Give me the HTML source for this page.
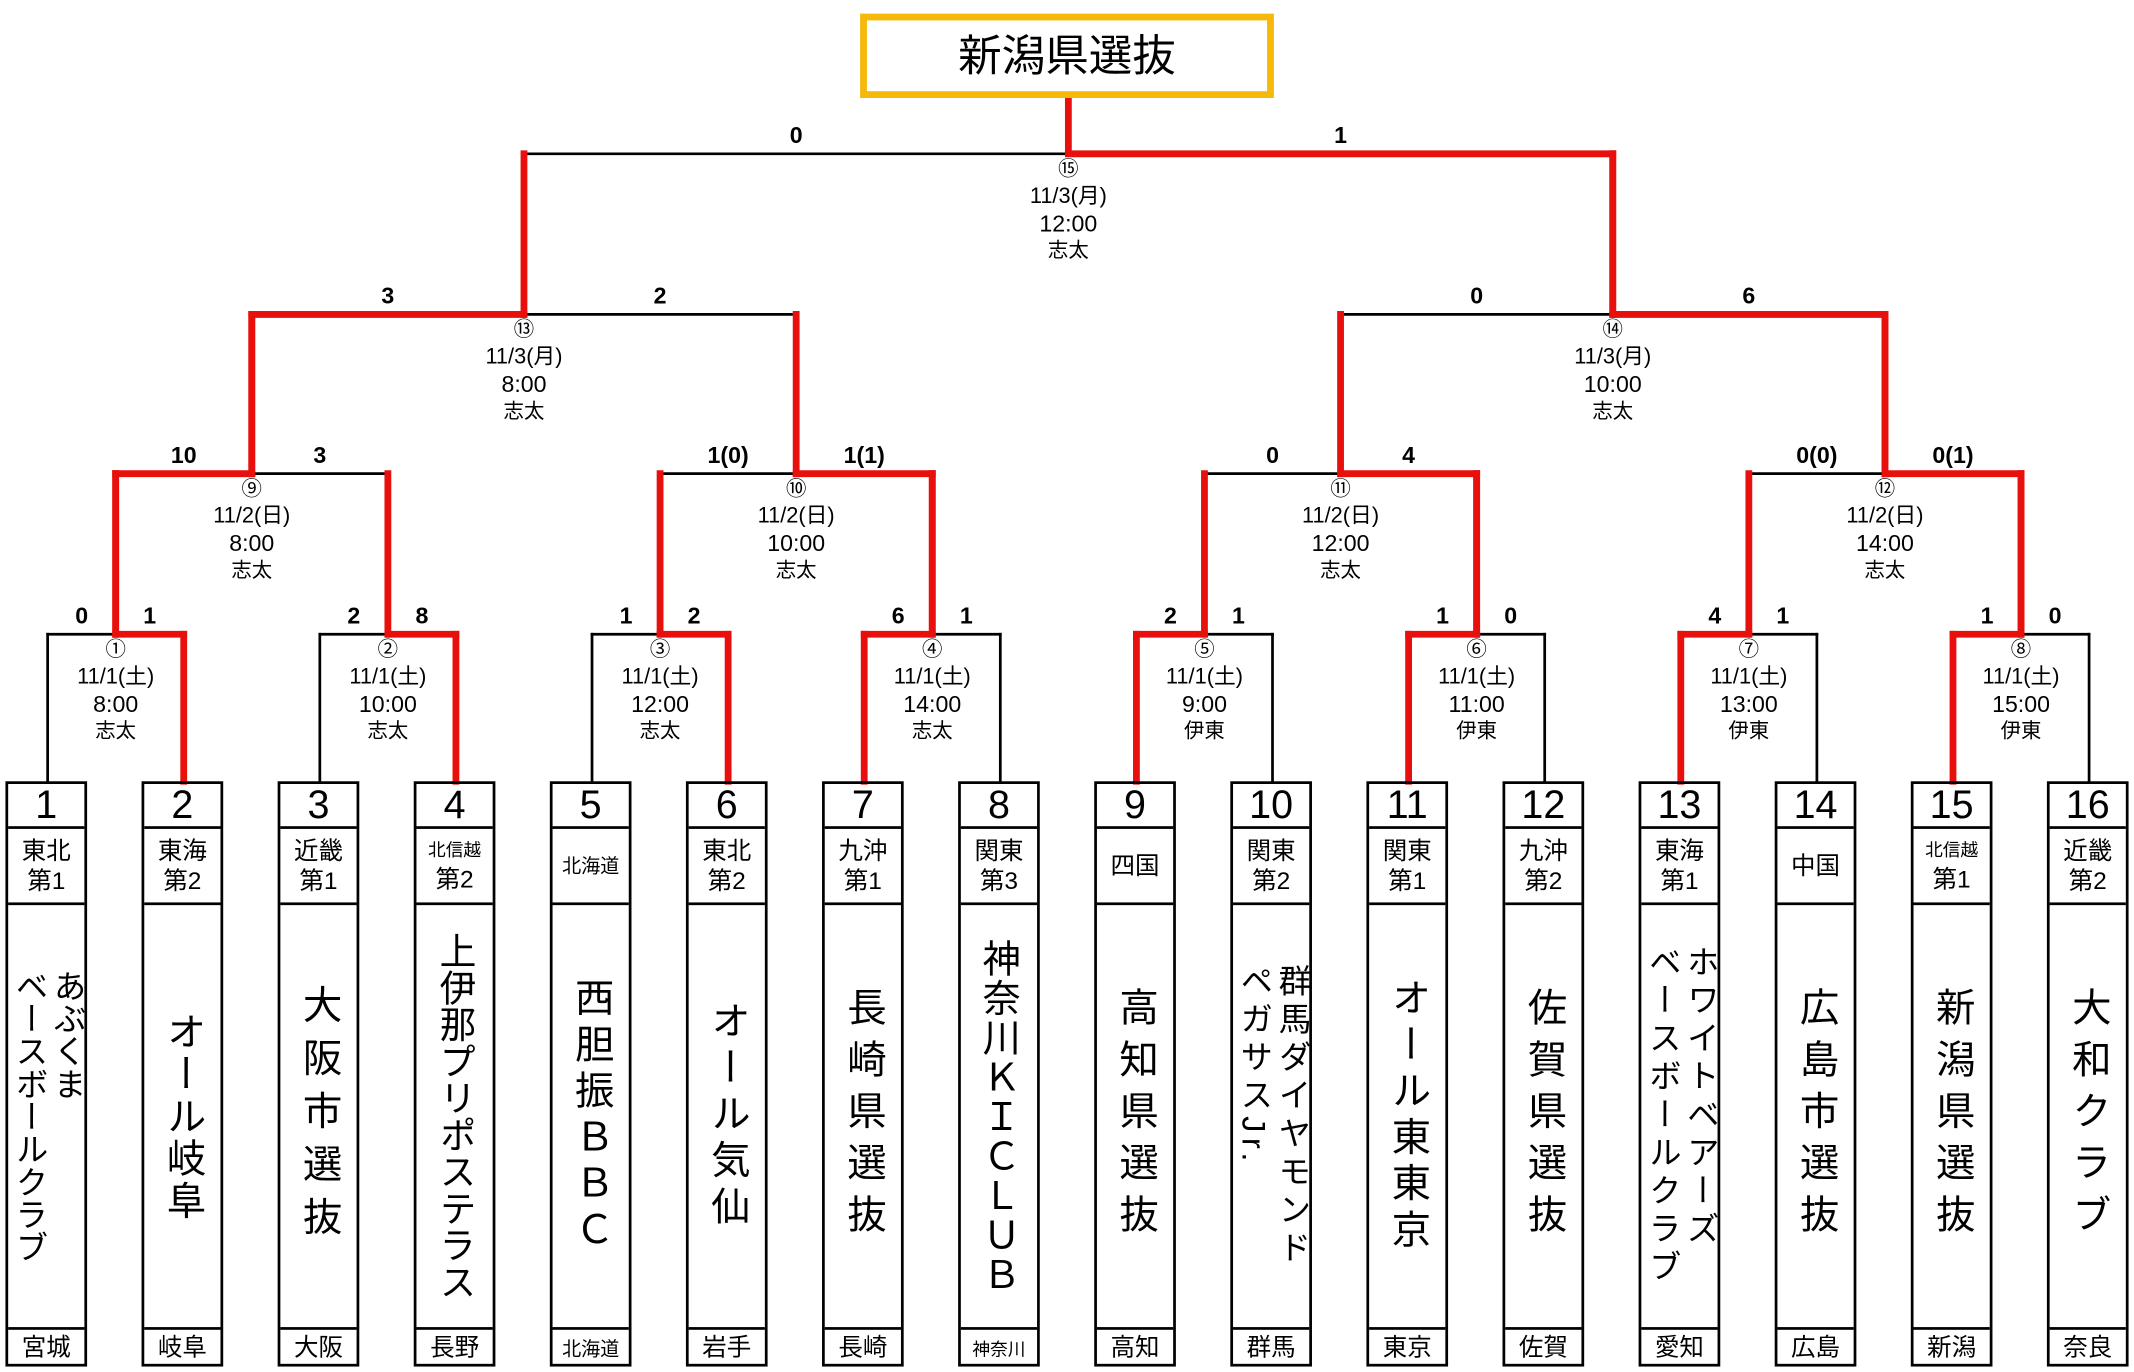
<!DOCTYPE html>
<html><head><meta charset="utf-8"><style>
html,body{margin:0;padding:0;background:#fff;width:2134px;height:1372px;overflow:hidden}
#c{position:absolute;left:0;top:0;width:1568px;height:1008px;transform:scale(1.36097,1.36111);transform-origin:0 0;font-family:"Liberation Sans","Noto Sans CJK JP",sans-serif;color:#000}
svg{position:absolute;left:0;top:0}
.t{position:absolute;text-align:center;white-space:nowrap}
.box{position:absolute;top:574px;width:56px;height:426px;border:2.5px solid #000;box-sizing:content-box}
.num{height:31px;border-bottom:2px solid #000;font-size:29px;line-height:33px;text-align:center}
.reg{height:54px;border-bottom:2px solid #000;font-size:18px;line-height:22px;text-align:center;display:flex;flex-direction:column;justify-content:center}
.reg div{line-height:22px}
.reg .sm{font-size:13px;line-height:20px}
.nm{height:310px;border-bottom:2px solid #000;display:flex;justify-content:center;align-items:center}
.nm span{writing-mode:vertical-rl;font-size:29px;line-height:28px}
.pf{height:24px;font-size:18px;line-height:26px;text-align:center}
.mi{position:absolute;width:120px;text-align:center;font-size:16px;line-height:20px}
.sc{position:absolute;width:60px;text-align:center;font-size:17px;line-height:18px;font-weight:bold}
</style></head><body><div id="c">
<svg width="1568" height="1008" id="s"></svg>
<div class="t" style="left:632px;top:10px;width:294px;height:52px;border:5px solid #F5B90A;font-size:32px;line-height:52px">新潟県選抜</div>
<div id="h"></div>
</div>
<script>
var s=document.getElementById('s'),h=document.getElementById('h'),out='',ht='';
function L(x1,y1,x2,y2,red){out+='<line x1="'+x1+'" y1="'+y1+'" x2="'+x2+'" y2="'+y2+'" stroke="'+(red?'#E8100C':'#000')+'" stroke-width="'+(red?5:2)+'" stroke-linecap="square"/>';}
var M=[
[35,135,466,574,'R',0,['0','1'],['①','11/1(土)','8:00','志太']],
[235,335,466,574,'R',0,['2','8'],['②','11/1(土)','10:00','志太']],
[435,535,466,574,'R',0,['1','2'],['③','11/1(土)','12:00','志太']],
[635,735,466,574,'L',0,['6','1'],['④','11/1(土)','14:00','志太']],
[835,935,466,574,'L',0,['2','1'],['⑤','11/1(土)','9:00','伊東']],
[1035,1135,466,574,'L',0,['1','0'],['⑥','11/1(土)','11:00','伊東']],
[1235,1335,466,574,'L',0,['4','1'],['⑦','11/1(土)','13:00','伊東']],
[1435,1535,466,574,'L',0,['1','0'],['⑧','11/1(土)','15:00','伊東']],
[85,285,348,466,'L',1,['10','3'],['⑨','11/2(日)','8:00','志太']],
[485,685,348,466,'R',1,['1(0)','1(1)'],['⑩','11/2(日)','10:00','志太']],
[885,1085,348,466,'R',1,['0','4'],['⑪','11/2(日)','12:00','志太']],
[1285,1485,348,466,'R',1,['0(0)','0(1)'],['⑫','11/2(日)','14:00','志太']],
[185,585,231,348,'L',1,['3','2'],['⑬','11/3(月)','8:00','志太']],
[985,1385,231,348,'R',1,['0','6'],['⑭','11/3(月)','10:00','志太']],
[385,1185,113,231,'R',1,['0','1'],['⑮','11/3(月)','12:00','志太']]
];
var reds='';
M.forEach(function(m){
 var lx=m[0],rx=m[1],y=m[2],b=m[3],c=(lx+rx)/2,w=m[4];
 L(lx,y,rx,y,0);L(lx,y,lx,b,0);L(rx,y,rx,b,0);
 var wx=w=='L'?lx:rx;
 var o=out;out='';
 L(c,y,wx,y,1);L(wx,y,wx,b,1);
 if(m[5]){L(lx,y,lx,b,1);L(rx,y,rx,b,1);}
 reds+=out;out=o;
 ht+='<div class="sc" style="left:'+((lx+c)/2-30)+'px;top:'+(y-22)+'px">'+m[6][0]+'</div>';
 ht+='<div class="sc" style="left:'+((rx+c)/2-30)+'px;top:'+(y-22)+'px">'+m[6][1]+'</div>';
 ht+='<div class="mi" style="left:'+(c-60)+'px;top:'+(y+2)+'px"><div style="font-size:15px;line-height:20px">'+m[7][0]+'</div><div>'+m[7][1]+'</div><div style="font-size:17px">'+m[7][2]+'</div><div style="font-size:15px">'+m[7][3]+'</div></div>';
});
out+=reds;
out+='<line x1="785" y1="71" x2="785" y2="113" stroke="#E8100C" stroke-width="5"/>';
s.innerHTML=out;
var T=[
['1','<div>東北</div><div>第1</div>','<span style="font-size:24px;line-height:26px">あぶくま<br>ベースボールクラブ</span>','宮城',0],
['2','<div>東海</div><div>第2</div>','オール岐阜','岐阜',2],
['3','<div>近畿</div><div>第1</div>','大阪市選抜','大阪',10],
['4','<div class="sm">北信越</div><div>第2</div>','<span style="font-size:27px">上伊那プリポステラス</span>','長野',0],
['5','<div class="sm" style="font-size:14px">北海道</div>','西胆振ＢＢＣ','<span style="font-size:14px">北海道</span>',5],
['6','<div>東北</div><div>第2</div>','オール気仙','岩手',5],
['7','<div>九沖</div><div>第1</div>','長崎県選抜','長崎',9],
['8','<div>関東</div><div>第3</div>','<span style="font-size:28px">神奈川ＫＩＣＬＵＢ</span>','<span style="font-size:13px">神奈川</span>',1],
['9','<div>四国</div>','高知県選抜','高知',9],
['10','<div>関東</div><div>第2</div>','<span style="font-size:24px;line-height:26px">群馬ダイヤモンド<br>ペガサスJr.</span>','群馬',4],
['11','<div>関東</div><div>第1</div>','オール東東京','東京',5],
['12','<div>九沖</div><div>第2</div>','佐賀県選抜','佐賀',9],
['13','<div>東海</div><div>第1</div>','<span style="font-size:24px;line-height:26px">ホワイトベアーズ<br>ベースボールクラブ</span>','愛知',4],
['14','<div>中国</div>','広島市選抜','広島',9],
['15','<div class="sm">北信越</div><div>第1</div>','新潟県選抜','新潟',9],
['16','<div>近畿</div><div>第2</div>','大和クラブ','奈良',9]
];
T.forEach(function(t,i){
 var x=5+100*i;
 ht+='<div class="box" style="left:'+(x-1)+'px"><div class="num">'+t[0]+'</div><div class="reg">'+t[1]+'</div><div class="nm"><span style="letter-spacing:'+t[4]+'px">'+t[2]+'</span></div><div class="pf">'+t[3]+'</div></div>';
});
h.innerHTML=ht;
</script>
</body></html>
